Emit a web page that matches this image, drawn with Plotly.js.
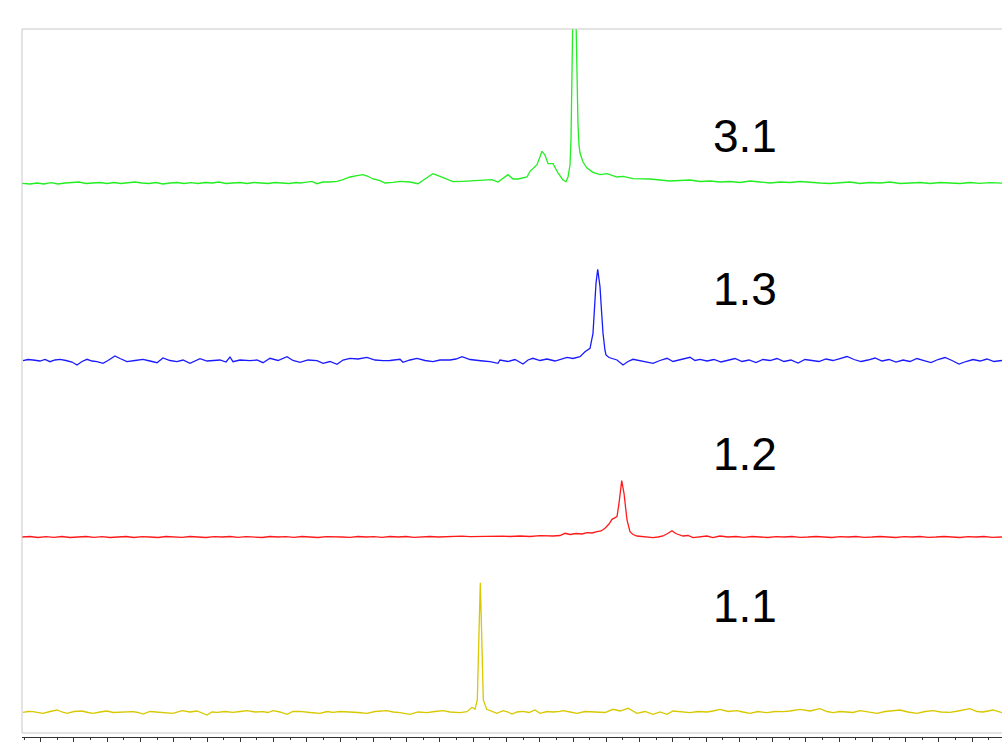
<!DOCTYPE html>
<html>
<head>
<meta charset="utf-8">
<script src="https://cdn.plot.ly/plotly-3.0.1.min.js"></script>
<style>html,body{margin:0;padding:0;background:#fff;}#chart{width:1002px;height:744px;}</style>
</head>
<body>
<div id="chart"></div>
<script>
// Sample labels (top to bottom)
var sampleLabels = ["3.1", "1.3", "1.2", "1.1"];

// Spectrum 3.1 (green): x positions (points) and intensities
var x31 = [22,30,37,44,51,58,65,72,79,86,93,100,107,114,121,128,135,142,149,156,163,170,177,184,191,198,205,212,219,226,233,240,247,254,261,268,275,282,289,296,300,305,312,317,323,330,337,343,350,357,363,368,373,380,385,393,400,410,418,425,433,440,447,453,463,473,483,492,498,503,508,513,518,527,530,537,542,545,548,553,558,563,566,568,570,571,572,573,574.5,576,577,578,579,580,583,587,593,600,607,617,623,633,650,660,670,680,690,700,710,720,730,740,750,760,770,780,790,800,810,820,830,840,850,860,870,880,890,900,910,920,930,940,950,960,970,980,990,1002];
var y31 = [-0.3,-1,0,-1,0.3,-1,0,0.5,1,-0.5,0,0.5,-0.5,0.5,-0.5,0,1,0,-0.5,0.5,-1,0,0.5,-0.5,0.3,-0.5,0.5,0,1,-0.5,0,0.5,-0.5,0.5,0,-0.5,0.5,0,-0.5,0.5,0,0.7,1.7,-0.7,1,1,1.7,3.3,6,7.3,8.3,6.7,4,2.3,0,0.7,1.7,1,-0.7,4,9.3,6.7,4,1.3,1.7,2.3,3.3,3.3,1,5,8.3,4,4,6,11.7,18.3,31.7,28,19.3,19.3,10,3,1.3,6,18,43,93,163,283,163,96,58,38,30,21,15,10.7,8.3,9.3,6,6.7,4.3,4,3,2,2.5,3,1.5,2,1,1.5,0.5,2,1,0,1,0.5,1.5,0.5,0,-0.5,0.5,1,-0.5,0.5,0,1,-0.5,0,0.5,-0.5,0.5,0,-0.5,0.5,-0.3,0.3,-0.2];

// Spectrum 1.3 (blue)
var x13 = [23,28,33,40,45,50,55,60,66,72,77,82,87,92,97,103,108,115,120,127,135,143,150,157,163,170,177,183,190,200,207,213,220,226,230,233,240,250,257,263,270,278,287,293,300,308,317,323,330,337,343,350,358,367,375,383,390,400,403,410,417,425,433,440,450,456,462,470,477,483,490,498,500,508,515,523,528,533,540,547,555,560,567,573,580,585,590,593,595,596,597.7,599,600,601.5,603,605,606,609,612,617,623,628,633,640,647,653,660,667,673,680,690,695,700,707,714,721,728,735,742,749,756,763,770,777,784,791,798,805,812,819,826,833,840,847,854,861,868,875,882,889,896,903,910,917,924,931,938,945,952,959,966,973,980,987,994,1002];
var y13 = [-0.2,1,0.5,-0.5,1,-1.2,0.5,1.2,0,-1.5,-4.5,-1,1.2,-0.5,-1.2,-2.8,0,4.5,2,-1.2,0,1.2,-0.5,-2.2,2.5,0,-1.2,0.5,-2.8,1.8,-0.5,-0.2,0.5,-1.5,3.5,-1.2,0.5,-0.2,0.5,-2.2,2.2,0,3.8,0,-1.8,0.5,-0.2,-2.8,-1,-3.8,0.5,2.2,1.5,3.2,0.5,-0.2,0,1.2,-1.8,0.5,2.2,0,-1.2,0.5,0.5,1.5,3.8,1,0.5,-0.5,-1.2,-2.8,0.5,-1,1,-3.5,0.5,2.2,0,1.5,-0.5,1,3.2,2,3.8,8.8,12.2,27.2,60,77.2,91.2,82,73.8,50,27.2,10,5.5,3,2.2,0.5,-4.5,-1,1.2,0,-1.5,-2.8,0,2.2,-1,0.5,3.2,0,1.2,-0.5,1,-1.5,0.5,2,-1,0.5,-2,1,0,2,-1,0.5,-2.5,1,0,-1,1.5,0,2,4,1,-1,0.5,2.5,-0.5,1,-1.5,0.5,-1,2,0,-2,1,3,0,-3.5,-1,1,-0.5,1.5,-1,0];

// Spectrum 1.2 (red)
var x12 = [22,30,38,46,54,62,70,78,86,94,102,110,118,126,134,142,150,158,166,174,182,190,198,206,214,222,230,238,246,254,262,270,278,286,294,302,310,318,326,334,342,350,358,366,374,382,390,398,406,414,422,430,438,446,454,462,470,478,486,494,502,510,520,530,540,553,560,565,570,576,582,587,592,597,601,605,609,612,617,619,621.7,624,625.5,627,630,633,637,645,653,658,663,668,672,675,677,683,688,693,700,707,713,720,728,736,744,752,760,768,776,784,792,800,808,816,824,832,840,848,856,864,872,880,888,896,904,912,920,928,936,944,952,960,968,976,984,992,1002];
var y12 = [0,0.5,-0.5,0.3,-0.3,0.5,-0.5,0,0.5,-0.3,0.3,-0.5,0,0.5,-0.5,0.3,0,-0.5,0.5,0,-0.3,0.5,0,-0.5,0.3,0,0.5,-0.3,0.3,0,-0.5,0.5,0,0.3,-0.3,0.5,0,-0.5,0.3,0.5,0,-0.3,0.5,0,0.3,-0.3,0.5,0,0.5,-0.3,0.3,0.5,0,0.5,0.3,0.8,0.3,0.5,1,0.5,0.8,0.5,1,0.5,1.3,1,1.5,3.7,2.5,3.5,3,4.3,4,5.3,6,8.7,13,17.7,20.3,33.7,56.3,43.7,30,17,5.3,2.5,1,0.5,-0.7,0,1,3.7,6.3,4,3,1,1.5,-0.7,0.5,1,-0.7,1,0,0.5,-0.3,0.5,0,-0.5,0.3,0,0.5,-0.3,0,0.5,0,-0.5,0.3,0,0.5,-0.3,0,0.5,0,-0.5,0.3,0,0.5,-0.3,0,0.5,0,-0.5,0.3,0,0.5,-0.3,0];

// Spectrum 1.1 (yellow)
var x11 = [23,28,33,38,43,50,57,62,67,74,82,88,93,100,107,113,120,127,133,138,143,150,157,165,173,182,190,197,202,207,212,217,225,233,240,247,255,263,268,273,280,287,293,300,310,320,327,333,340,350,358,367,375,387,393,400,410,418,427,435,443,450,460,467,472,475,477.3,478.5,479.3,480.3,481.3,482.2,483.3,486.7,492,497,503,508,512,517,523,529,535,540,547,553,560,563,570,577,585,597,605,613,620,628,637,645,653,660,667,673,680,690,698,707,713,720,728,737,743,750,758,767,775,783,790,800,810,820,827,833,840,847,853,860,868,877,885,893,900,908,917,925,933,941,950,958,970,977,983,993,1002];
var y11 = [-0.3,0.5,0.3,-0.5,-1.3,0.5,2,0,-1.3,0.5,1,-0.5,-1.3,0,1,-0.5,-0.3,0.5,0.3,-0.5,-2,0.5,0,-0.5,-1.3,1.3,0,1,-1,-3,0,-0.3,0.5,-0.3,0.5,1.3,0,0.3,-0.5,1.3,0,-2.3,0.5,0.7,-0.5,-1.3,0.5,-0.3,0.5,0.3,-0.5,-1.3,0.5,1.3,0,-0.7,-2.3,0,-0.7,0.5,1.3,0,-0.7,0.3,4.7,2.7,12,60,92,129.3,92,50,12,2.7,0.5,-1.3,1.3,0,-2,0,0.7,-0.5,2,-1.3,0.5,0,0.7,1.3,0,-1.3,0.5,0.3,-0.5,2.7,1,3.7,-1.3,0.5,-2.3,0,-2.3,1,0,-0.7,0.5,0,1,2.7,0.5,1.3,0,-1.3,0.5,-0.7,0.5,0.3,1,2.7,1,3.3,0.5,-0.7,0.5,0.3,-0.5,1.3,0,-1.3,0.5,1,2,0,-1.3,0.5,1.3,0,-0.3,1,3.3,0.5,0,2,-0.7];

var series = [
  {x: x31, y: y31, color: "#22ee22", label: sampleLabels[0]},
  {x: x13, y: y13, color: "#1a1aff", label: sampleLabels[1]},
  {x: x12, y: y12, color: "#ff1a1a", label: sampleLabels[2]},
  {x: x11, y: y11, color: "#d8c800", label: sampleLabels[3]}
];
// vertical stacking offsets and label heights (layout)
var offsets = [554, 376.5, 200, 25];
var labelY = [601.5, 448, 283.3, 131.5];

var traces = series.map(function(s, i){
  return {
    type: "scatter", mode: "lines",
    x: s.x,
    y: s.y.map(function(v){ return v + offsets[i]; }),
    line: {color: s.color, width: 1.3},
    hoverinfo: "skip", showlegend: false
  };
});

var annotations = series.map(function(s, i){
  return {
    xref: "x", yref: "y", x: 745, y: labelY[i],
    text: s.label, showarrow: false,
    xanchor: "center", yanchor: "middle",
    font: {family: "Liberation Sans, Arial, sans-serif", size: 46, color: "#000"}
  };
});

var layout = {
  width: 1002, height: 744,
  margin: {l: 22, r: 0, t: 29, b: 7, pad: 0},
  paper_bgcolor: "#fff", plot_bgcolor: "#fff",
  showlegend: false,
  xaxis: {
    range: [22, 1002], showgrid: false, zeroline: false,
    showline: true, linecolor: "#333", linewidth: 1,
    ticks: "outside", ticklen: 4, tickwidth: 1, tickcolor: "#333",
    tick0: 40.7, dtick: 33.27, showticklabels: false,
    minor: {ticks: "outside", ticklen: 2, tickwidth: 1, tickcolor: "#333", tick0: 40.7, dtick: 16.635, showgrid: false},
    fixedrange: true
  },
  yaxis: {range: [0, 708], visible: false, showgrid: false, zeroline: false, fixedrange: true},
  shapes: [
    {type: "line", xref: "paper", yref: "y", x0: 0, x1: 1.02, y0: 4, y1: 4, line: {color: "#c8c8c8", width: 1}},
    {type: "line", xref: "paper", yref: "paper", x0: 0, x1: 1.02, y0: 1, y1: 1, line: {color: "#c8c8c8", width: 1}},
    {type: "line", xref: "paper", yref: "paper", x0: 0, x1: 0, y0: 4/708, y1: 1, line: {color: "#c8c8c8", width: 1}}
  ],
  annotations: annotations
};

Plotly.newPlot("chart", traces, layout, {staticPlot: true, displayModeBar: false});
</script>
</body>
</html>
